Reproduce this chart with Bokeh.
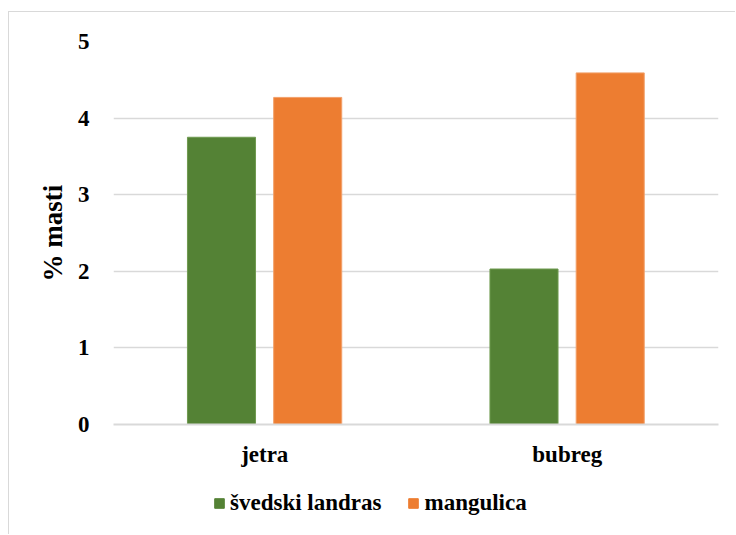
from bokeh.plotting import figure
from bokeh.layouts import column
from bokeh.models import ColumnDataSource, FactorRange, Range1d, Legend, LegendItem, FixedTicker
from bokeh.transform import dodge
from bokeh.embed import file_html
from bokeh.resources import INLINE

categories = ["jetra", "bubreg"]
svedski = [3.75, 2.03]
mangulica = [4.27, 4.59]
series_names = ["švedski landras", "mangulica"]
y_ticks = [0, 1, 2, 3, 4, 5]

src = ColumnDataSource(dict(cat=categories, s1=svedski, s2=mangulica))

FONT = "'Liberation Serif', 'Times New Roman', serif"
FS = "23px"
GREEN = "#548235"
ORANGE = "#ED7D31"

p = figure(x_range=FactorRange(factors=categories, range_padding=0),
           y_range=Range1d(0, 5),
           width=726, height=467, output_backend="svg", toolbar_location=None,
           min_border_left=104, min_border_right=17, min_border_top=29, min_border_bottom=55)
p.outline_line_color = None
p.background_fill_color = "white"
p.border_fill_color = "white"

p.vbar(x=dodge("cat", -0.143, range=p.x_range), top="s1", width=0.225, source=src,
       fill_color=GREEN, line_color="#6f9a50", line_width=1)
p.vbar(x=dodge("cat", 0.142, range=p.x_range), top="s2", width=0.225, source=src,
       fill_color=ORANGE, line_color="#f2a06a", line_width=1)

# axes
p.yaxis.ticker = FixedTicker(ticks=y_ticks)
p.yaxis.axis_line_color = None
p.yaxis.major_tick_line_color = None
p.yaxis.minor_tick_line_color = None
p.yaxis.major_label_standoff = 18
p.yaxis.major_label_text_font = FONT
p.yaxis.major_label_text_font_style = "bold"
p.yaxis.major_label_text_font_size = FS
p.yaxis.major_label_text_color = "black"
p.yaxis.axis_label = "% masti"
p.yaxis.axis_label_text_font = FONT
p.yaxis.axis_label_text_font_style = "bold"
p.yaxis.axis_label_text_font_size = "27px"
p.yaxis.axis_label_text_color = "black"
p.yaxis.axis_label_standoff = 7

p.xaxis.axis_line_color = "#d9d9d9"
p.xaxis.axis_line_width = 2
p.xaxis.major_tick_line_color = None
p.xaxis.minor_tick_line_color = None
p.xaxis.major_label_standoff = 11
p.xaxis.major_label_text_font = FONT
p.xaxis.major_label_text_font_style = "bold"
p.xaxis.major_label_text_font_size = FS
p.xaxis.major_label_text_color = "black"

p.xgrid.grid_line_color = None
p.ygrid.grid_line_color = "#d9d9d9"
p.ygrid.grid_line_width = 1.5

# legend strip below the chart
p2 = figure(x_range=FactorRange(factors=categories), y_range=Range1d(10, 11),
            width=726, height=55, output_backend="svg", toolbar_location=None,
            min_border=0, min_border_left=0, min_border_right=0,
            min_border_top=0, min_border_bottom=0)
p2.axis.visible = False
p2.grid.visible = False
p2.outline_line_color = None
p2.border_fill_color = "white"
l1 = p2.vbar(x="cat", top="s1", width=0.2, source=src, fill_color=GREEN, line_color=GREEN)
l2 = p2.vbar(x="cat", top="s2", width=0.2, source=src, fill_color=ORANGE, line_color=ORANGE)

legend = Legend(items=[LegendItem(label=series_names[0], renderers=[l1]),
                       LegendItem(label=series_names[1], renderers=[l2])],
                orientation="horizontal", location=(100, 18),
                padding=0, margin=0, spacing=26, label_standoff=5,
                glyph_width=12, glyph_height=12,
                border_line_color=None, background_fill_alpha=0,
                label_text_font=FONT, label_text_font_style="bold",
                label_text_font_size=FS, label_text_color="black")
p2.add_layout(legend, "center")

layout = column(p, p2, spacing=0,
                styles={"margin-left": "8px", "margin-top": "11px",
                        "border-left": "1.5px solid #d9d9d9",
                        "border-top": "1.5px solid #d9d9d9"})

open("out.html", "w").write(file_html(layout, INLINE))
